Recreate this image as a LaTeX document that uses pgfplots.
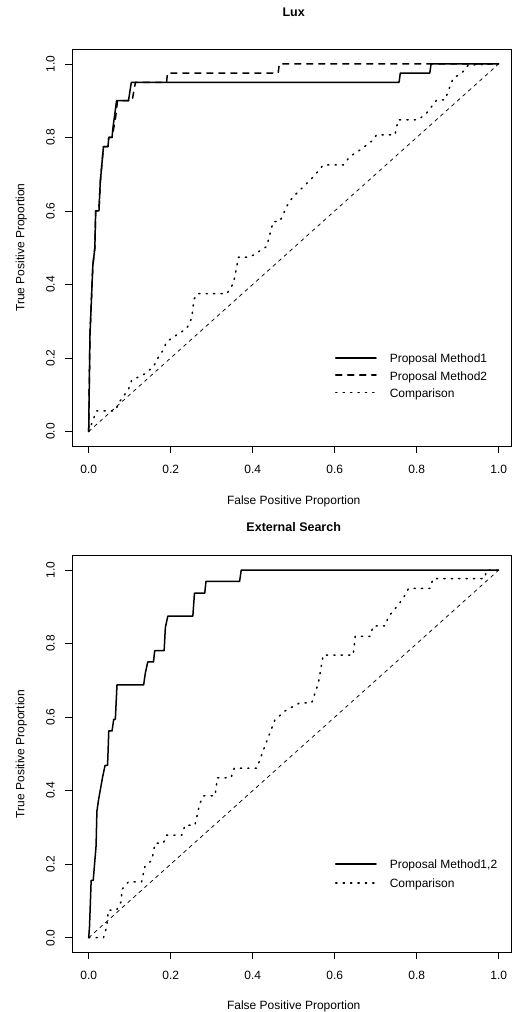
\documentclass[border=0pt]{standalone}
\usepackage{fontspec}
\setmainfont{Liberation Sans}
\usepackage{pgfplots}
\pgfplotsset{compat=1.18}
\pgfplotsset{
  rocaxis/.style={
    anchor=south west, scale only axis, width=438.7bp, height=397bp,
    xmin=-0.04, xmax=1.03, ymin=-0.04, ymax=1.04,
    axis line style={line width=0.75bp, black},
    xtick={0,0.2,0.4,0.6,0.8,1}, xticklabels={0.0,0.2,0.4,0.6,0.8,1.0},
    ytick={0,0.2,0.4,0.6,0.8,1}, yticklabels={0.0,0.2,0.4,0.6,0.8,1.0},
    tick align=outside, tick pos=left, major tick length=7bp,
    every tick/.style={black, line width=0.75bp},
    xticklabel style={anchor=north, inner sep=0pt},
    yticklabel style={rotate=90, anchor=south, inner sep=0pt},
    xticklabel shift=11.8bp, yticklabel shift=10.3bp,
    xlabel style={at={(axis description cs:0.5047,-0.1474)}, anchor=base, inner sep=0pt},
    ylabel style={at={(axis description cs:-0.1094,0.5)}, anchor=base, inner sep=0pt},
    title style={at={(axis description cs:0.5047,1.0673)}, anchor=base, inner sep=0pt, font=\fontsize{12.5bp}{14bp}\selectfont\bfseries},
    xlabel={False Positive Proportion}, ylabel={True Positive Proportion},
    legend cell align=left,
    legend image code/.code={\path (0bp,0bp) (54bp,0bp); \draw[##1] (0.75bp,1.2bp) -- (41bp,1.2bp);},
    legend style={draw=none, fill=none, inner sep=0pt, outer sep=0pt, column sep=0pt,
      nodes={inner sep=0pt, outer sep=0pt}, anchor=north west, at={(axis cs:0.599,0.211)}},
  },
  m1/.style={black, line width=1.5bp, line cap=round, line join=round},
  m2/.style={black, line width=1.5bp, line cap=round, line join=round, dash pattern=on 6bp off 6bp},
  cmp/.style={black, line width=1.5bp, line cap=round, line join=round, dash pattern=on 1.2bp off 6.2bp},
  diag/.style={black, line width=0.75bp, line cap=round, dash pattern=on 3.5bp off 4bp},
}
\begin{document}
\begin{tikzpicture}[x=1bp, y=1bp, font=\fontsize{12bp}{14bp}\selectfont]
\useasboundingbox (0,0) rectangle (512,1012);
\begin{axis}[rocaxis, at={(72.3bp,565.8bp)}, title={Lux},
  legend style={row sep=7.2bp}]
\addplot[m1] coordinates {(0,0) (0.003,0.26) (0.010,0.45) (0.015,0.5) (0.017,0.6) (0.025,0.6) (0.028,0.675) (0.036,0.775) (0.047,0.775) (0.049,0.8) (0.057,0.8) (0.059,0.825) (0.062,0.85) (0.065,0.875) (0.068,0.9) (0.097,0.9) (0.104,0.95) (0.757,0.95) (0.760,0.975) (0.832,0.975) (0.835,1) (1,1)};
\addlegendentry{Proposal Method1}
\addplot[m2] coordinates {(0,0) (0.003,0.26) (0.010,0.45) (0.015,0.5) (0.017,0.6) (0.025,0.6) (0.028,0.675) (0.036,0.775) (0.047,0.775) (0.049,0.8) (0.057,0.8) (0.061,0.825) (0.065,0.85) (0.068,0.875) (0.070,0.9) (0.106,0.9) (0.114,0.95) (0.190,0.95) (0.192,0.975) (0.462,0.975) (0.465,1) (1,1)};
\addlegendentry{Proposal Method2}
\addplot[cmp] coordinates {(0,0) (0.019,0.056) (0.064,0.056) (0.077,0.084) (0.097,0.115) (0.105,0.14) (0.133,0.154) (0.158,0.176) (0.166,0.195) (0.182,0.222) (0.19,0.244) (0.215,0.263) (0.239,0.28) (0.251,0.308) (0.257,0.36) (0.265,0.375) (0.337,0.375) (0.353,0.403) (0.361,0.448) (0.365,0.474) (0.393,0.474) (0.434,0.503) (0.45,0.571) (0.466,0.571) (0.487,0.621) (0.499,0.639) (0.532,0.675) (0.548,0.693) (0.572,0.725) (0.621,0.725) (0.637,0.748) (0.662,0.766) (0.694,0.793) (0.702,0.807) (0.747,0.807) (0.755,0.848) (0.804,0.848) (0.824,0.866) (0.849,0.902) (0.869,0.902) (0.881,0.938) (0.889,0.961) (0.91,0.975) (0.926,0.997) (1,1)};
\addlegendentry{Comparison}
\addplot[diag, forget plot] coordinates {(0,0) (1,1)};
\end{axis}
\begin{axis}[rocaxis, at={(72.3bp,59.6bp)}, title={External Search},
  title style={at={(axis description cs:0.5047,1.0446)}},
  xlabel style={at={(axis description cs:0.5047,-0.1449)}},
  legend style={row sep=8.6bp}]
\addplot[m1] coordinates {(0,0) (0.002,0.031) (0.006,0.156) (0.011,0.156) (0.018,0.25) (0.020,0.344) (0.024,0.375) (0.034,0.4375) (0.040,0.469) (0.046,0.469) (0.049,0.5625) (0.057,0.5625) (0.061,0.594) (0.065,0.594) (0.069,0.6875) (0.134,0.6875) (0.138,0.719) (0.144,0.75) (0.158,0.75) (0.161,0.781) (0.184,0.781) (0.187,0.844) (0.193,0.875) (0.254,0.875) (0.258,0.9375) (0.283,0.9375) (0.286,0.969) (0.368,0.969) (0.372,1) (1,1)};
\addlegendentry{Proposal Method1,2}
\addplot[cmp] coordinates {(0,0) (0.036,0) (0.044,0.03) (0.048,0.075) (0.068,0.075) (0.08,0.1) (0.08,0.13) (0.097,0.152) (0.129,0.152) (0.137,0.193) (0.154,0.211) (0.162,0.257) (0.182,0.257) (0.19,0.279) (0.227,0.279) (0.235,0.306) (0.259,0.306) (0.271,0.365) (0.28,0.386) (0.308,0.386) (0.314,0.435) (0.347,0.435) (0.355,0.461) (0.41,0.461) (0.426,0.51) (0.454,0.592) (0.479,0.617) (0.515,0.639) (0.544,0.639) (0.56,0.692) (0.572,0.769) (0.645,0.769) (0.65,0.82) (0.686,0.82) (0.694,0.848) (0.723,0.848) (0.731,0.873) (0.751,0.9) (0.767,0.923) (0.78,0.95) (0.832,0.95) (0.84,0.977) (0.965,0.977) (0.971,1) (1,1)};
\addlegendentry{Comparison}
\addplot[diag, forget plot] coordinates {(0,0) (1,1)};
\end{axis}
\end{tikzpicture}
\end{document}
